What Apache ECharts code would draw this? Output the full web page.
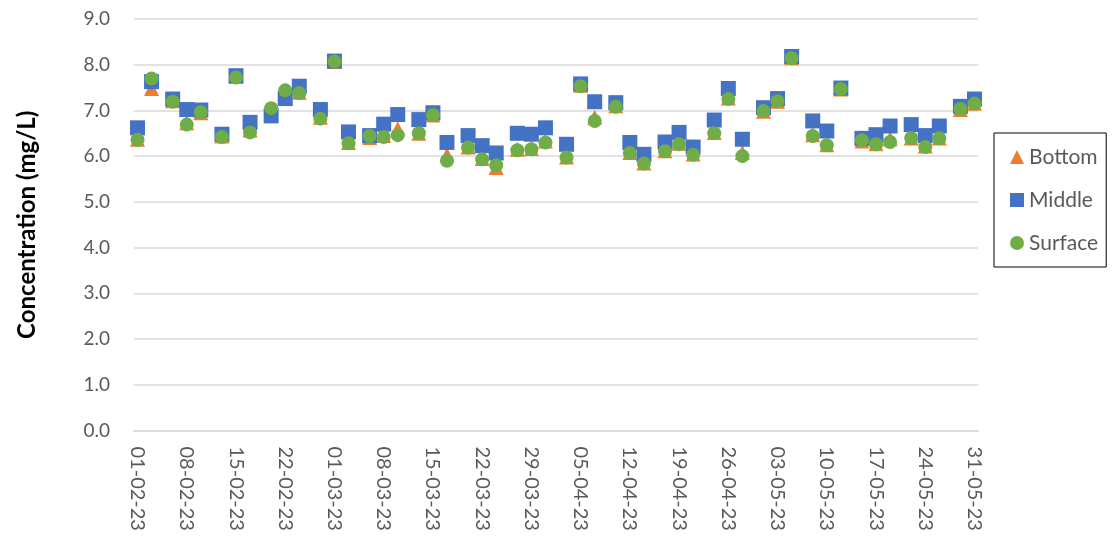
<!DOCTYPE html>
<html>
<head>
<meta charset="utf-8">
<title>Dissolved oxygen concentration by depth</title>
<script src="https://cdn.jsdelivr.net/npm/echarts@6/dist/echarts.min.js"></script>
<style>
  html, body { margin: 0; padding: 0; background: #ffffff; }
  #chart { width: 1112px; height: 539px; }
</style>
</head>
<body>
<div id="chart"></div>
<script>
// Sampling days (Mon / Wed / Fri), DD-MM-YY
const sampleDates = [
  '01-02-23','03-02-23','06-02-23','08-02-23','10-02-23','13-02-23','15-02-23','17-02-23',
  '20-02-23','22-02-23','24-02-23','27-02-23','01-03-23','03-03-23','06-03-23','08-03-23',
  '10-03-23','13-03-23','15-03-23','17-03-23','20-03-23','22-03-23','24-03-23','27-03-23',
  '29-03-23','31-03-23','03-04-23','05-04-23','07-04-23','10-04-23','12-04-23','14-04-23',
  '17-04-23','19-04-23','21-04-23','24-04-23','26-04-23','28-04-23','01-05-23','03-05-23',
  '05-05-23','08-05-23','10-05-23','12-05-23','15-05-23','17-05-23','19-05-23','22-05-23',
  '24-05-23','26-05-23','29-05-23','31-05-23'
];

// Concentration (mg/L) at each depth
const bottom = [
  6.37, 7.48, 7.21, 6.73, 6.95, 6.44, 7.74, 6.57,
  6.88, 7.26, 7.40, 6.85, 8.07, 6.30, 6.41, 6.45,
  6.60, 6.50, 6.90, 6.03, 6.20, 5.95, 5.75, 6.15,
  6.17, 6.33, 5.98, 7.55, 6.85, 7.10, 6.08, 5.85,
  6.12, 6.28, 6.05, 6.52, 7.27, 6.08, 6.98, 7.20,
  8.15, 6.47, 6.25, 7.47, 6.33, 6.27, 6.38, 6.40,
  6.22, 6.40, 7.02, 7.16
];
const middle = [
  6.62, 7.63, 7.25, 7.02, 7.01, 6.48, 7.76, 6.74,
  6.89, 7.26, 7.53, 7.02, 8.08, 6.53, 6.45, 6.70,
  6.91, 6.80, 6.95, 6.30, 6.45, 6.23, 6.07, 6.50,
  6.48, 6.62, 6.26, 7.58, 7.19, 7.17, 6.30, 6.04,
  6.31, 6.52, 6.20, 6.79, 7.48, 6.37, 7.06, 7.26,
  8.18, 6.77, 6.55, 7.49, 6.39, 6.47, 6.66, 6.69,
  6.45, 6.66, 7.09, 7.25
];
const surface = [
  6.36, 7.70, 7.19, 6.69, 6.96, 6.42, 7.72, 6.52,
  7.05, 7.44, 7.38, 6.82, 8.07, 6.28, 6.44, 6.42,
  6.46, 6.50, 6.90, 5.90, 6.19, 5.93, 5.80, 6.13,
  6.15, 6.30, 5.97, 7.53, 6.77, 7.08, 6.07, 5.84,
  6.11, 6.26, 6.03, 6.50, 7.25, 6.00, 6.99, 7.20,
  8.14, 6.44, 6.24, 7.47, 6.35, 6.26, 6.31, 6.40,
  6.20, 6.39, 7.03, 7.15
];

// Date axis: one category per calendar day, labelled weekly
const axisStart = '01-02-23';
const axisEnd = '31-05-23';
const yTicks = { min: 0, max: 9, step: 1 };

function parseDMY(s) {
  const [d, m, y] = s.split('-').map(Number);
  return new Date(Date.UTC(2000 + y, m - 1, d));
}
function fmtDMY(dt) {
  const p = n => String(n).padStart(2, '0');
  return p(dt.getUTCDate()) + '-' + p(dt.getUTCMonth() + 1) + '-' + p(dt.getUTCFullYear() % 100);
}
const days = [];
for (let t = parseDMY(axisStart).getTime(); t <= parseDMY(axisEnd).getTime(); t += 86400000) {
  days.push(fmtDMY(new Date(t)));
}

const pairs = vals => sampleDates.map((d, i) => [d, vals[i]]);

const FONT = 'Lato, "Open Sans", sans-serif';
const chart = echarts.init(document.getElementById('chart'), null, { renderer: 'canvas' });

chart.setOption({
  animation: false,
  backgroundColor: '#ffffff',
  grid: { left: 134, right: 134, top: 19, bottom: 108.5, containLabel: false },
  legend: {
    orient: 'vertical',
    left: 994,
    top: 133,
    padding: [13, 8, 13, 16],
    borderColor: '#000000',
    borderWidth: 1,
    itemWidth: 14,
    itemHeight: 14,
    itemGap: 21,
    textStyle: { fontFamily: FONT, fontSize: 21, color: '#595959', lineHeight: 22 },
    data: ['Bottom', 'Middle', 'Surface']
  },
  xAxis: {
    type: 'category',
    data: days,
    boundaryGap: true,
    axisLine: { show: true, lineStyle: { color: '#d9d9d9', width: 1.5 } },
    axisTick: { show: false },
    axisLabel: {
      interval: 6,
      rotate: -90,
      margin: 16,
      fontFamily: FONT,
      fontSize: 20,
      color: '#595959'
    },
    splitLine: { show: false }
  },
  yAxis: {
    type: 'value',
    min: yTicks.min,
    max: yTicks.max,
    interval: yTicks.step,
    name: 'Concentration (mg/L)',
    nameLocation: 'middle',
    nameRotate: 90,
    nameGap: 95,
    nameTextStyle: { fontFamily: FONT, fontSize: 24, fontWeight: 'bold', color: '#000000' },
    axisLine: { show: false },
    axisTick: { show: false },
    axisLabel: {
      margin: 24,
      fontFamily: FONT,
      fontSize: 19,
      color: '#595959',
      formatter: v => v.toFixed(1)
    },
    splitLine: { lineStyle: { color: '#d9d9d9', width: 1.5 } }
  },
  series: [
    {
      name: 'Bottom',
      type: 'scatter',
      symbol: 'triangle',
      symbolSize: 15,
      itemStyle: { color: '#ED7D31', opacity: 1 },
      data: pairs(bottom)
    },
    {
      name: 'Middle',
      type: 'scatter',
      symbol: 'rect',
      symbolSize: 15,
      itemStyle: { color: '#4472C4', opacity: 1 },
      data: pairs(middle)
    },
    {
      name: 'Surface',
      type: 'scatter',
      symbol: 'circle',
      symbolSize: 14,
      itemStyle: { color: '#70AD47', opacity: 1 },
      data: pairs(surface)
    }
  ]
});
</script>
</body>
</html>
